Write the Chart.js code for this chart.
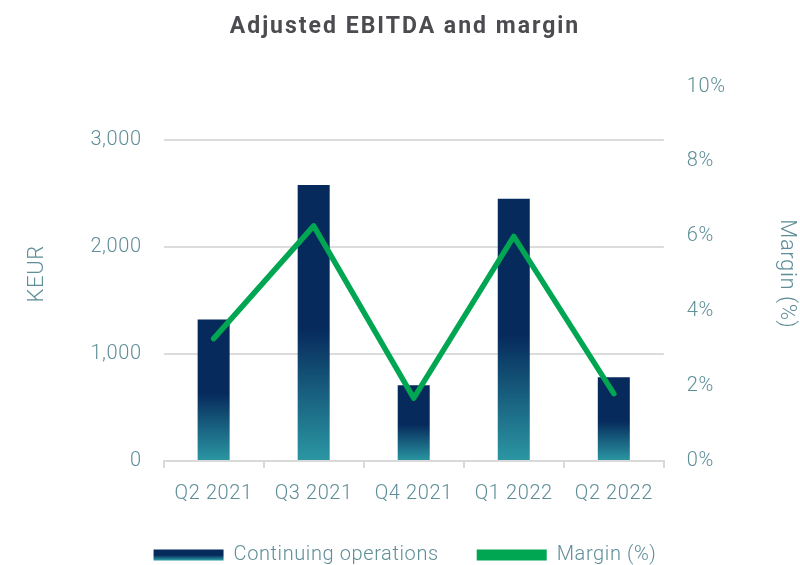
<!DOCTYPE html>
<html>
<head>
<meta charset="utf-8">
<script src="https://cdn.jsdelivr.net/npm/chart.js@4/dist/chart.umd.min.js"></script>
<style>
html,body{margin:0;padding:0;background:#fff;}
#wrap{width:800px;height:565px;position:relative;overflow:hidden;}
</style>
</head>
<body>
<div id="wrap"><canvas id="c" width="800" height="565"></canvas></div>
<script>
const categories = ["Q2 2021", "Q3 2021", "Q4 2021", "Q1 2022", "Q2 2022"];
const ebitdaKEUR = [1323, 2581, 708, 2451, 783];
const marginPct = [3.27, 6.28, 1.68, 6.0, 1.8];
const leftTicks = [0, 1000, 2000, 3000];
const rightTicks = [0, 2, 4, 6, 8, 10];

const NAVY = '#062a5c';
const TEAL = '#2b97a3';
const GREEN = '#00a651';
const AXIS_TXT = '#5e8e98';
const FONT = 'Roboto, "Liberation Sans", sans-serif';

function barGradient(ctx) {
  const chart = ctx.chart;
  const area = chart.chartArea;
  if (!area || ctx.dataIndex === undefined) return NAVY;
  const y = chart.scales.y;
  const top = y.getPixelForValue(ctx.raw);
  const base = y.getPixelForValue(0);
  const g = chart.ctx.createLinearGradient(0, top, 0, base);
  g.addColorStop(0, NAVY);
  g.addColorStop(0.52, NAVY);
  g.addColorStop(1, TEAL);
  return g;
}

const spacingPlugin = {
  id: 'spacing',
  afterInit(chart) {
    const tb = chart.titleBlock;
    if (tb && !tb._patched) {
      const orig = tb.draw.bind(tb);
      tb.draw = function () {
        const c = chart.ctx;
        const prev = c.letterSpacing;
        c.letterSpacing = '2px';
        orig();
        c.letterSpacing = prev;
      };
      tb._patched = true;
    }
  },
  beforeUpdate(chart) { chart.ctx.letterSpacing = '0.6px'; },
  beforeLayout(chart) { chart.ctx.letterSpacing = '0.6px'; },
  beforeDraw(chart) { chart.ctx.letterSpacing = '0.6px'; }
};

const chart = new Chart(document.getElementById('c'), {
  plugins: [spacingPlugin],
  data: {
    labels: categories,
    datasets: [
      {
        type: 'line',
        label: 'Margin (%)',
        data: marginPct,
        yAxisID: 'y1',
        borderColor: GREEN,
        backgroundColor: GREEN,
        borderWidth: 5.5,
        borderCapStyle: 'round',
        borderJoinStyle: 'round',
        pointRadius: 0,
        tension: 0,
        order: 0
      },
      {
        type: 'bar',
        label: 'Continuing operations',
        data: ebitdaKEUR,
        yAxisID: 'y',
        backgroundColor: barGradient,
        borderWidth: 0,
        barPercentage: 0.32,
        categoryPercentage: 1,
        order: 1
      }
    ]
  },
  options: {
    responsive: false,
    animation: false,
    devicePixelRatio: 1,
    layout: { padding: { left: 10, right: 0, top: 0, bottom: -10 } },
    plugins: {
      title: {
        display: true,
        text: 'Adjusted EBITDA and margin',
        color: '#4b4b50',
        font: { family: FONT, size: 23, weight: 'bold' },
        padding: { top: 13, bottom: 46 }
      },
      tooltip: { enabled: false },
      legend: {
        position: 'bottom',
        reverse: true,
        labels: {
          color: AXIS_TXT,
          font: { family: FONT, size: 20, weight: 300 },
          boxWidth: 70,
          boxHeight: 11,
          padding: 38,
          generateLabels(chart) {
            const items = Chart.defaults.plugins.legend.labels.generateLabels(chart);
            items.forEach(it => {
              if (it.text === 'Continuing operations') {
                const g = chart.ctx.createLinearGradient(0, 548, 0, 560);
                g.addColorStop(0, NAVY);
                g.addColorStop(0.6, NAVY);
                g.addColorStop(1, TEAL);
                it.fillStyle = g;
                it.strokeStyle = 'rgba(0,0,0,0)';
                it.lineWidth = 0;
              } else {
                it.fillStyle = GREEN;
                it.strokeStyle = GREEN;
                it.lineWidth = 0;
              }
            });
            return items;
          }
        }
      }
    },
    scales: {
      x: {
        offset: true,
        afterFit(scale) { scale.height -= 13; },
        grid: {
          display: true,
          offset: true,
          drawOnChartArea: false,
          drawTicks: true,
          tickLength: 7,
          color: '#d9d9d9',
          lineWidth: 2
        },
        border: { display: true, color: '#d9d9d9', width: 2 },
        ticks: { color: AXIS_TXT, font: { family: FONT, size: 20, weight: 300 }, padding: 14 }
      },
      y: {
        position: 'left',
        min: 0,
        max: 3500,
        afterBuildTicks(scale) { scale.ticks = leftTicks.map(v => ({ value: v })); },
        grid: { color: '#dcdcdc', lineWidth: 2, drawTicks: false },
        border: { display: false },
        ticks: {
          color: AXIS_TXT,
          font: { family: FONT, size: 20, weight: 300 },
          padding: 22,
          callback: v => v.toLocaleString('en-US')
        },
        title: {
          display: true,
          text: 'KEUR',
          color: AXIS_TXT,
          font: { family: FONT, size: 22, weight: 300 },
          padding: { top: 14, bottom: 18 }
        }
      },
      y1: {
        position: 'right',
        min: 0,
        max: 10,
        afterBuildTicks(scale) { scale.ticks = rightTicks.map(v => ({ value: v })); },
        grid: { display: false, drawTicks: false },
        border: { display: false },
        ticks: {
          color: AXIS_TXT,
          font: { family: FONT, size: 20, weight: 300 },
          padding: 23,
          callback: v => v + '%'
        },
        title: {
          display: true,
          text: 'Margin (%)',
          color: AXIS_TXT,
          font: { family: FONT, size: 22, weight: 300 },
          padding: { top: 0, bottom: 25 }
        }
      }
    }
  }
});
chart.update();
</script>
</body>
</html>
